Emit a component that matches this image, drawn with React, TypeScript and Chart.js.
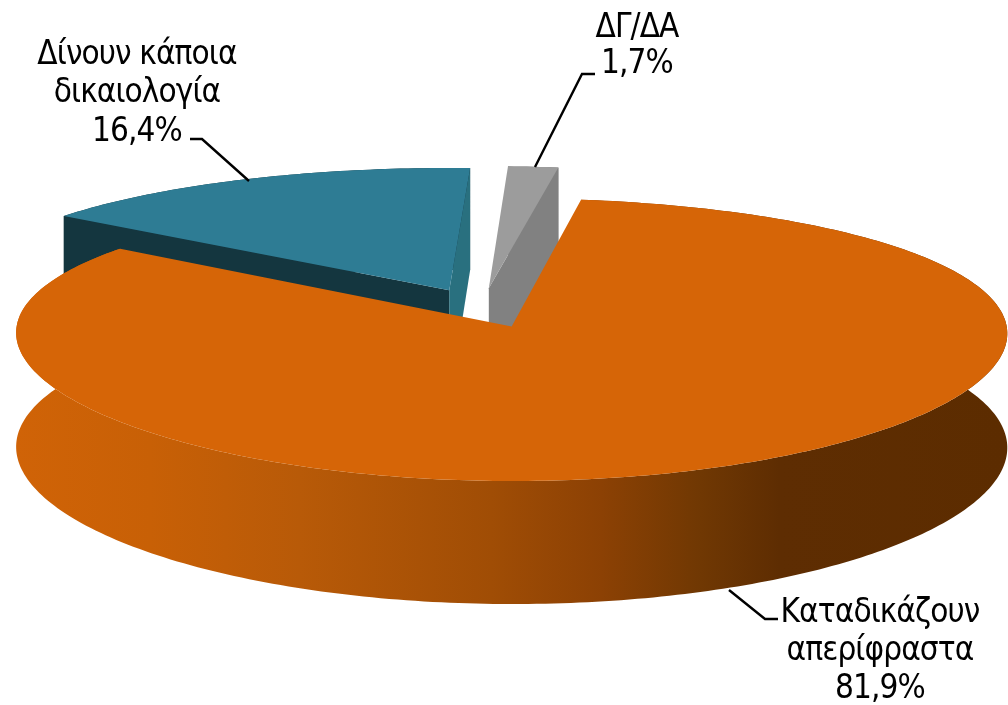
import React, { useEffect, useRef } from "react";
import { Chart, registerables } from "chart.js";

Chart.register(...registerables);

const categories = ["Καταδικάζουν απερίφραστα", "Δίνουν κάποια δικαιολογία", "ΔΓ/ΔΑ"];
const categoryLines = [["Καταδικάζουν", "απερίφραστα"], ["Δίνουν κάποια", "δικαιολογία"], ["ΔΓ/ΔΑ"]];
const shares = [81.9, 16.4, 1.7];
const topColors = ["#D66507", "#2E7C94", "#9C9C9C"];
const outerWallColors = ["#A04D05", "#14363F", "#818181"];

const FONT = '33px "DejaVu Sans Condensed", "DejaVu Sans", sans-serif';
const CX = 482, CY = 308, AX = 492, BY = 136.7, PK = 0.0917, PX = 0.5;
const DEPTH = 112.5, DEPTH_K = 9.3, ANGLE_WARP = 0.063;

const labelLayout = [
  { x: 880, base: [622, 660, 698], lead: [[729, 590], [765, 619], [778, 619]] },
  { x: 137, base: [64, 102, 141], lead: [[190, 139], [202, 139], [249, 181]] },
  { x: 637, base: [37, 73], lead: [[595, 74], [582, 74], [535, 167]] },
];

const project = (u: number, v: number) => {
  const w = 1 / (1 - PK * v);
  return { x: CX + AX * u * Math.pow(w, PX), y: CY + BY * v * w };
};
const below = (u: number, v: number) => {
  const p = project(u, v);
  return { x: p.x, y: p.y + DEPTH + DEPTH_K * v };
};

const pie3d = {
  id: "pie3d",
  beforeDatasetsDraw(chart: any) {
    const ctx: CanvasRenderingContext2D = chart.ctx;
    const arcs = chart.getDatasetMeta(0).data;
    const order = [1, 2, 0];
    ctx.save();
    for (const i of order) {
      const a = arcs[i];
      const R = a.outerRadius;
      const mid = (a.startAngle + a.endAngle) / 2;
      const off = (a.options.offset || 0) / 4 / R;
      const ou = Math.cos(mid) * off;
      const ov = Math.sin(mid) * off;
      const rim: [number, number][] = [];
      const n = Math.max(8, Math.round((a.endAngle - a.startAngle) * 60));
      for (let k = 0; k <= n; k++) {
        const t0 = a.startAngle + ((a.endAngle - a.startAngle) * k) / n;
        const t = t0 + ANGLE_WARP * Math.cos(t0) * Math.cos(t0);
        rim.push([ou + Math.cos(t), ov + Math.sin(t)]);
      }
      // outer wall
      const wall = ctx.createLinearGradient(15, 0, 1008, 0);
      if (i === 0) {
        wall.addColorStop(0, "#D06307");
        wall.addColorStop(0.136, "#C86006");
        wall.addColorStop(0.287, "#B85A08");
        wall.addColorStop(0.48, "#A04D05");
        wall.addColorStop(0.59, "#8C4104");
        wall.addColorStop(0.69, "#703803");
        wall.addColorStop(0.77, "#5E2D02");
        wall.addColorStop(1, "#5C2C00");
      } else {
        wall.addColorStop(0, outerWallColors[i]);
        wall.addColorStop(1, outerWallColors[i]);
      }
      ctx.fillStyle = wall;
      ctx.beginPath();
      rim.forEach(([u, v], k) => {
        const p = project(u, v);
        k ? ctx.lineTo(p.x, p.y) : ctx.moveTo(p.x, p.y);
      });
      [...rim].reverse().forEach(([u, v]) => {
        const p = below(u, v);
        ctx.lineTo(p.x, p.y);
      });
      ctx.closePath();
      ctx.fill();
      // radial walls
      const radial = (edge: [number, number], color: string) => {
        const a0 = project(ou, ov), a1 = below(ou, ov);
        const e0 = project(edge[0], edge[1]), e1 = below(edge[0], edge[1]);
        ctx.fillStyle = color;
        ctx.beginPath();
        ctx.moveTo(a0.x, a0.y);
        ctx.lineTo(e0.x, e0.y);
        ctx.lineTo(e1.x, e1.y);
        ctx.lineTo(a1.x, a1.y);
        ctx.closePath();
        ctx.fill();
      };
      if (i === 1) {
        radial(rim[0], "#14363F");
        radial(rim[rim.length - 1], "#29707F");
      }
      if (i === 2) radial(rim[rim.length - 1], "#818181");
      // top face
      ctx.fillStyle = a.options.backgroundColor;
      ctx.beginPath();
      const apex = project(ou, ov);
      ctx.moveTo(apex.x, apex.y);
      rim.forEach(([u, v]) => {
        const p = project(u, v);
        ctx.lineTo(p.x, p.y);
      });
      ctx.closePath();
      ctx.fill();
    }
    // labels
    ctx.font = FONT;
    (ctx as any).letterSpacing = "-0.9px";
    ctx.fillStyle = "#000";
    ctx.textAlign = "center";
    ctx.textBaseline = "alphabetic";
    categoryLines.forEach((lines, i) => {
      const l = labelLayout[i];
      const text = [...lines, shares[i].toFixed(1).replace(".", ",") + "%"];
      text.forEach((s, k) => ctx.fillText(s, l.x, l.base[k]));
      ctx.strokeStyle = "#000";
      ctx.lineWidth = 2.4;
      ctx.beginPath();
      l.lead.forEach(([x, y], k) => (k ? ctx.lineTo(x, y) : ctx.moveTo(x, y)));
      ctx.stroke();
    });
    ctx.restore();
    return false;
  },
};

export default function App() {
  const ref = useRef<HTMLCanvasElement>(null);
  useEffect(() => {
    document.body.style.margin = "0";
    const chart = new Chart(ref.current!, {
      type: "pie",
      data: {
        labels: categories,
        datasets: [
          { data: shares, backgroundColor: topColors, borderWidth: 0, offset: 160 },
        ],
      },
      options: {
        animation: false,
        responsive: false,
        rotation: 8.5,
        layout: { padding: 0 },
        plugins: { legend: { display: false }, tooltip: { enabled: false } },
      },
      plugins: [pie3d],
    } as any);
    return () => chart.destroy();
  }, []);
  return (
    <div style={{ width: 1008, height: 705, background: "#fff" }}>
      <canvas ref={ref} width={1008} height={705} style={{ display: "block" }} />
    </div>
  );
}
